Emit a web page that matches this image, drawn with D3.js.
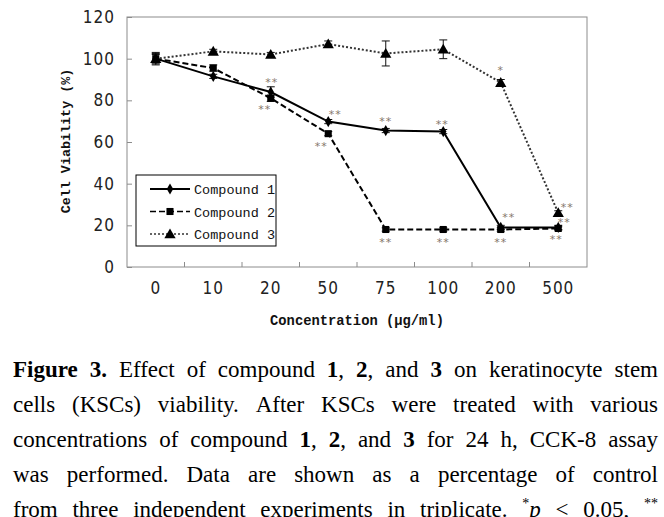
<!DOCTYPE html>
<html>
<head>
<meta charset="utf-8">
<script src="https://cdn.jsdelivr.net/npm/d3@7"></script>
<style>
  body { margin: 0; background: #fff; }
  svg { display: block; }
</style>
</head>
<body>
<div id="chart"></div>
<script>
// data
var concentrations = ["0", "10", "20", "50", "75", "100", "200", "500"];
var compound1 = [100, 91.5, 84, 69.8, 65.5, 65, 19, 19];
var compound2 = [100, 95.5, 81, 64, 18, 18, 18, 18.5];
var compound3 = [100, 103.5, 102, 107, 102.5, 104.5, 88.5, 26];
var err1 = [2, 1, 2.5, 1, 1, 1, 1, 1];
var err2 = [2.5, 1.5, 1.5, 1, 0.8, 0.8, 0.8, 0.8];
var err3 = [3, 1, 1, 1.5, 6, 4.5, 1.5, 1];
var sig1 = ["", "", "**", "**", "**", "**", "**", "**"];
var sig2 = ["", "", "**", "**", "**", "**", "**", "**"];
var sig3 = ["", "", "", "", "", "", "*", "**"];
var yTicks = [0, 20, 40, 60, 80, 100, 120];
var seriesNames = ["Compound 1", "Compound 2", "Compound 3"];

var captionLines = [
  "<b>Figure 3.</b> Effect of compound <b>1</b>, <b>2</b>, and <b>3</b> on keratinocyte stem",
  "cells (KSCs) viability. After KSCs were treated with various",
  "concentrations of compound <b>1</b>, <b>2</b>, and <b>3</b> for 24 h, CCK-8 assay",
  "was performed. Data are shown as a percentage of control",
  "from three independent experiments in triplicate. <sup>*</sup><i>p</i> < 0.05, <sup>**</sup>"
];

var svgWidth = 664;
var svgHeight = 517;

var margin = { top: 17, left: 127 };
var width = 460;
var height = 250;

var svg = d3.select("#chart")
  .append("svg")
  .attr("width", svgWidth)
  .attr("height", svgHeight);

var chartGroup = svg.append("g")
  .attr("transform", `translate(${margin.left}, ${margin.top})`);

var x = d3.scaleBand().domain(concentrations).range([0, width]);
var y = d3.scaleLinear().domain([0, 120]).range([height, 0]);
var cx = function(c) { return x(c) + x.bandwidth() / 2; };

var axisColor = "#8c8c8c";
var tickFont = "'Liberation Sans Narrow', 'DejaVu Sans Condensed', sans-serif";
var monoFont = "'Liberation Mono', 'DejaVu Sans Mono', monospace";

// frame
chartGroup.append("rect")
  .attr("width", width)
  .attr("height", height)
  .attr("fill", "none")
  .attr("stroke", axisColor);

// y axis
var leftAxis = d3.axisLeft(y).tickValues(yTicks).tickSize(-5).tickPadding(12);
var yAxis = chartGroup.append("g").call(leftAxis);
yAxis.select(".domain").remove();
yAxis.selectAll("line").attr("stroke", axisColor);
yAxis.selectAll("text")
  .attr("font-family", tickFont)
  .attr("font-size", 17)
  .attr("letter-spacing", 1)
  .attr("fill", "#222");

// x axis: labels in the middle of each category, ticks on the borders
var bottomAxis = d3.axisBottom(x).tickSize(0).tickPadding(15);
var xAxis = chartGroup.append("g")
  .attr("transform", `translate(0, ${height})`)
  .call(bottomAxis);
xAxis.select(".domain").remove();
xAxis.selectAll("text")
  .attr("font-family", tickFont)
  .attr("font-size", 17)
  .attr("letter-spacing", 1)
  .attr("fill", "#222");

chartGroup.append("g").selectAll("line")
  .data(concentrations.slice(1))
  .enter()
  .append("line")
  .attr("x1", d => x(d))
  .attr("x2", d => x(d))
  .attr("y1", height)
  .attr("y2", height - 5)
  .attr("stroke", axisColor);

// axis titles
svg.append("text")
  .attr("x", margin.left + width / 2)
  .attr("y", 325)
  .attr("text-anchor", "middle")
  .attr("font-family", monoFont)
  .attr("font-weight", "bold")
  .attr("font-size", 13.8)
  .attr("fill", "#111")
  .text("Concentration (μg/ml)");

svg.append("text")
  .attr("transform", "translate(70, 141) rotate(-90)")
  .attr("text-anchor", "middle")
  .attr("font-family", monoFont)
  .attr("font-weight", "bold")
  .attr("font-size", 13.4)
  .attr("fill", "#111")
  .text("Cell Viability (%)");

// series
var series = [
  { values: compound1, err: err1, sig: sig1, dash: null, color: "#000", marker: "diamond" },
  { values: compound2, err: err2, sig: sig2, dash: "6,3", color: "#000", marker: "square" },
  { values: compound3, err: err3, sig: sig3, dash: "2,2", color: "#333", marker: "triangle" }
];

var symbols = {
  diamond: d3.symbol().type(d3.symbolDiamond).size(36),
  square: d3.symbol().type(d3.symbolSquare).size(50),
  triangle: d3.symbol().type(d3.symbolTriangle).size(55)
};

var line = d3.line()
  .x((d, i) => cx(concentrations[i]))
  .y(d => y(d));

series.forEach(function(s) {
  var g = chartGroup.append("g");

  g.append("path")
    .attr("d", line(s.values))
    .attr("fill", "none")
    .attr("stroke", s.color)
    .attr("stroke-width", 2)
    .attr("stroke-dasharray", s.dash);

  // error bars
  s.values.forEach(function(v, i) {
    var px = cx(concentrations[i]);
    var e = s.err[i];
    g.append("line")
      .attr("x1", px).attr("x2", px)
      .attr("y1", y(v - e)).attr("y2", y(v + e))
      .attr("stroke", "#111");
    [v - e, v + e].forEach(function(end) {
      g.append("line")
        .attr("x1", px - 4).attr("x2", px + 4)
        .attr("y1", y(end)).attr("y2", y(end))
        .attr("stroke", "#111");
    });
  });

  g.selectAll(".marker")
    .data(s.values)
    .enter()
    .append("path")
    .attr("d", symbols[s.marker])
    .attr("transform", (d, i) => `translate(${cx(concentrations[i])}, ${y(d) + (s.marker === "triangle" ? 1 : 0)})`)
    .attr("fill", "#000");
});

// where each significance mark sits around its point
var sigOffsets = [
  [null, null, [1, -12], [7, -10], [0, -12], [-1, -10], [8, -12], [6, -7]],
  [null, null, [-6, 9], [-7, 10], [0, 10], [0, 10], [0, 10], [-2, 9]],
  [null, null, null, null, null, null, [0, -15], [9, -8]]
];

series.forEach(function(s, si) {
  s.sig.forEach(function(mark, i) {
    if (!mark) return;
    var off = sigOffsets[si][i];
    chartGroup.append("text")
      .attr("x", cx(concentrations[i]) + off[0])
      .attr("y", y(s.values[i]) + off[1] + 6)
      .attr("text-anchor", "middle")
      .attr("font-family", "'DejaVu Sans', sans-serif")
      .attr("font-size", 11)
      .attr("letter-spacing", 1)
      .attr("fill", "#86796c")
      .text(mark);
  });
});

// legend
var legend = svg.append("g").attr("transform", "translate(136, 175)");
legend.append("rect")
  .attr("width", 140)
  .attr("height", 71)
  .attr("fill", "#fff")
  .attr("stroke", "#000");

series.forEach(function(s, i) {
  var ly = 14 + i * 22.5;
  legend.append("line")
    .attr("x1", 14).attr("x2", 54)
    .attr("y1", ly).attr("y2", ly)
    .attr("stroke", s.color)
    .attr("stroke-width", s.marker === "diamond" ? 2 : 1.5)
    .attr("stroke-dasharray", s.dash);
  legend.append("path")
    .attr("d", symbols[s.marker])
    .attr("transform", `translate(34, ${ly + (s.marker === "triangle" ? 1 : 0)})`)
    .attr("fill", "#000");
  legend.append("text")
    .attr("x", 58)
    .attr("y", ly + 5)
    .attr("font-family", monoFont)
    .attr("font-size", 13.5)
    .attr("fill", "#111")
    .text(seriesNames[i]);
});

// caption, justified word by word
var capLeft = 13;
var capRight = 658;
var capBase = [377, 412, 447, 482, 517];
var capFont = "'Liberation Serif', 'Times New Roman', serif";

function parseWords(str) {
  var state = { b: false, i: false, sup: false };
  return str.split(" ").map(function(word) {
    var segs = [];
    word.split(/(<\/?(?:b|i|sup)>)/).forEach(function(tok) {
      var m = tok.match(/^<(\/?)(b|i|sup)>$/);
      if (m) { state[m[2]] = !m[1]; }
      else if (tok) { segs.push({ t: tok, b: state.b, i: state.i, sup: state.sup }); }
    });
    return segs;
  });
}

var caption = svg.append("g");
captionLines.forEach(function(str, li) {
  var words = parseWords(str);
  var nodes = words.map(function(segs) {
    var t = caption.append("text")
      .attr("y", capBase[li])
      .attr("font-family", capFont)
      .attr("font-size", 23)
      .attr("fill", "#000");
    var raised = false;
    segs.forEach(function(sg) {
      var ts = t.append("tspan").text(sg.t);
      if (sg.b) ts.attr("font-weight", "bold");
      if (sg.i) ts.attr("font-style", "italic");
      if (sg.sup && !raised) { ts.attr("font-size", 14).attr("dy", -9); raised = true; }
      else if (sg.sup) { ts.attr("font-size", 14); }
      else if (raised) { ts.attr("dy", 9); raised = false; }
    });
    return t;
  });
  var widths = nodes.map(n => n.node().getComputedTextLength());
  var total = d3.sum(widths);
  var gap = (capRight - capLeft - total) / (nodes.length - 1);
  var pos = capLeft;
  nodes.forEach(function(n, k) {
    n.attr("x", pos);
    pos += widths[k] + gap;
  });
});
</script>
</body>
</html>
